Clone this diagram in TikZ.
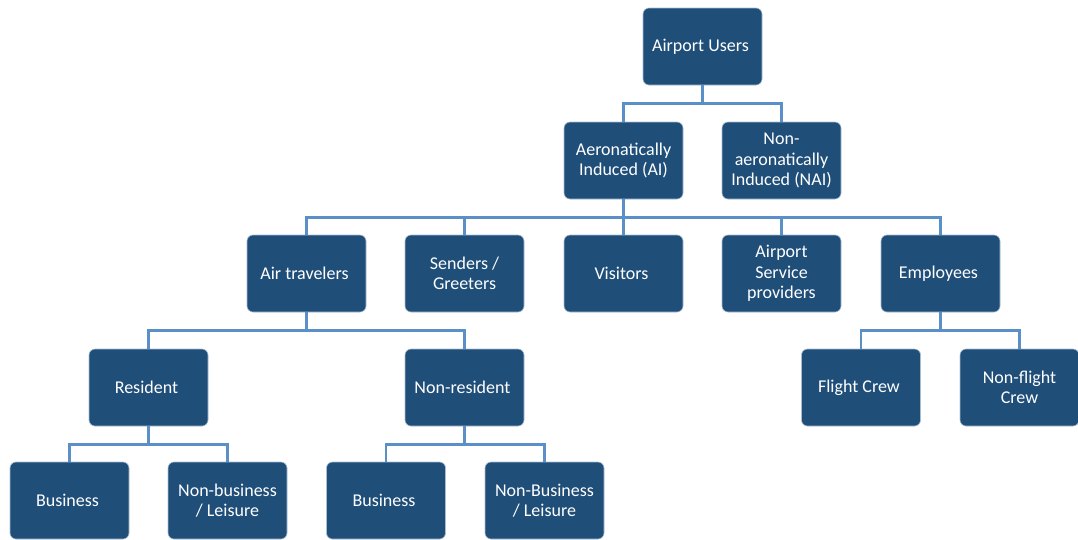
\documentclass[tikz,border=0pt]{standalone}
\usepackage{fontspec}
\setmainfont{Carlito}
\usepackage{tikz}
\usetikzlibrary{positioning}

\definecolor{boxblue}{HTML}{1F4E79}
\definecolor{boxrim}{HTML}{A9BDD1}
\definecolor{linkblue}{HTML}{5A8FC8}

\tikzset{
  usr/.style = {draw = boxrim, line width = .6pt, fill = boxblue, text = white,
    rounded corners = 6pt, minimum width = 119pt, minimum height = 77pt,
    align = center, font = \fontsize{18}{20.5}\selectfont},
  link/.style = {draw = linkblue, line width = 2.6pt}
}

\begin{document}
\begin{tikzpicture}[x = 1pt, y = 1pt]
  \useasboundingbox (0,0) rectangle (1078,-539);

  % top
  \node [usr] (users) at (702.5,-46.5) { Airport Users };
  \node [usr] (ai) at (623.5,-160.5) { Aeronatically \\ Induced (AI) };
  \node [usr] (nai) at (781.5,-160.5) { Non- \\ aeronatically \\ Induced (NAI) };

  % groups
  \node [usr] (travel) at (306.5,-273.5) { Air travelers };
  \node [usr] (greet) at (464.5,-273.5) { Senders / \\ Greeters };
  \node [usr] (visit) at (623.5,-273.5) { Visitors };
  \node [usr] (serv) at (781.5,-273.5) { Airport \\ Service \\ providers };
  \node [usr] (staff) at (940.5,-273.5) { Employees };

  \node [usr] (res) at (148.5,-387.5) { Resident };
  \node [usr] (nonres) at (464.5,-387.5) { Non-resident };
  \node [usr] (crew) at (861,-387.5) { Flight Crew };
  \node [usr] (noncrew) at (1019.5,-387.5) { Non-flight \\ Crew };

  \node [usr] (resbiz) at (69.5,-500.5) { Business };
  \node [usr] (resfun) at (227.5,-500.5) { Non-business \\ / Leisure };
  \node [usr] (nrbiz) at (386,-500.5) { Business };
  \node [usr] (nrfun) at (544.5,-500.5) { Non-Business \\ / Leisure };

  % links
  \foreach \p/\c in {users/ai, users/nai,
      ai/travel, ai/greet, ai/visit, ai/serv, ai/staff,
      travel/res, travel/nonres, staff/crew, staff/noncrew,
      res/resbiz, res/resfun, nonres/nrbiz, nonres/nrfun}
    \draw [link] (\p.south) -- ++(0,-18) -| (\c.north);
\end{tikzpicture}
\end{document}
